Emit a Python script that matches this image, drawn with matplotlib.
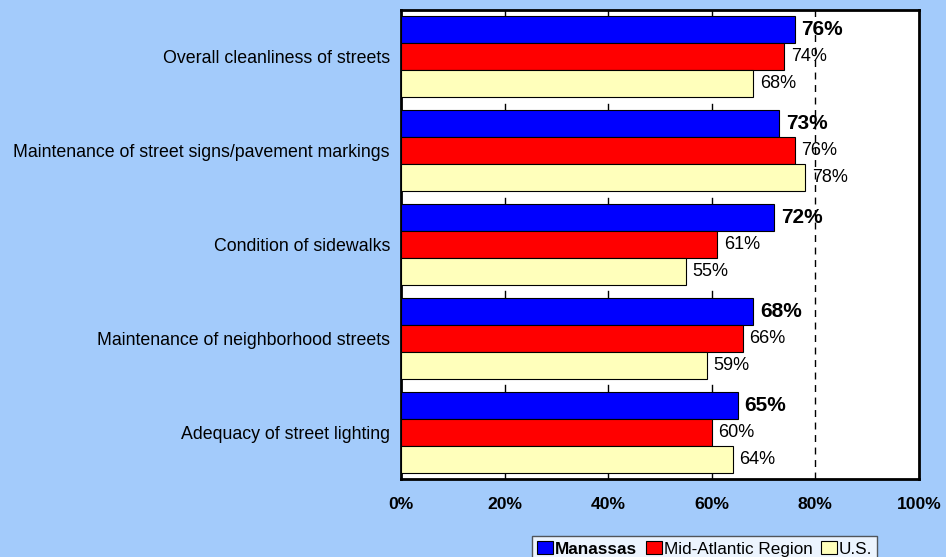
import matplotlib
matplotlib.use('Agg')
import matplotlib.pyplot as plt
from matplotlib.patches import Patch

plt.rcParams['font.family'] = ['Liberation Sans', 'DejaVu Sans']

categories = ['Overall cleanliness of streets',
              'Maintenance of street signs/pavement markings',
              'Condition of sidewalks',
              'Maintenance of neighborhood streets',
              'Adequacy of street lighting']
series_names = ['Manassas', 'Mid-Atlantic Region', 'U.S.']
manassas = [76, 73, 72, 68, 65]
mid_atlantic = [74, 76, 61, 66, 60]
us = [68, 78, 55, 59, 64]
x_ticks = [0, 20, 40, 60, 80, 100]
x_tick_labels = ['0%', '20%', '40%', '60%', '80%', '100%']

colors = ['#0000FF', '#FF0000', '#FFFFBB']
bg = '#A3CBFB'

fig = plt.figure(figsize=(9.46, 5.57), dpi=100, facecolor=bg)
ax = fig.add_axes([401 / 946, 1 - 479 / 557, 518 / 946, 469 / 557])
ax.set_facecolor('white')

bar_h = 0.288
series = [manassas, mid_atlantic, us]
for k, vals in enumerate(series):
    ys = [i + 0.5 + (k - 1) * bar_h for i in range(len(categories))]
    ax.barh(ys, vals, height=bar_h, color=colors[k], edgecolor='black',
            linewidth=0.8, zorder=3)
    for y, v in zip(ys, vals):
        if k == 0:
            ax.text(v + 1.3, y, f'{v}%', va='center', ha='left',
                    fontsize=15, fontweight='bold', zorder=4)
        else:
            ax.text(v + 1.3, y, f'{v}%', va='center', ha='left',
                    fontsize=13, zorder=4)

ax.set_xlim(0, 100)
ax.set_ylim(5, 0)

# dashed reference line at 80%
ax.axvline(80, color='black', linestyle=(0, (5, 4)), linewidth=1, zorder=2)

# small tick marks at category boundaries
tl = 6 / 93.8
for x in [20, 40, 60]:
    for b in range(5):
        ax.plot([x, x], [b, b + tl], color='black', lw=1, zorder=2)
    ax.plot([x, x], [5 - tl, 5], color='black', lw=1, zorder=2)

ax.set_yticks([i + 0.5 for i in range(len(categories))])
ax.set_yticklabels(categories, fontsize=12.8)
ax.tick_params(axis='y', length=0, pad=8)
ax.set_xticks(x_ticks)
ax.set_xticklabels(x_tick_labels, fontsize=12.6, fontweight='bold')
ax.tick_params(axis='x', length=0, pad=13)

for s in ax.spines.values():
    s.set_linewidth(2)
    s.set_color('black')

handles = [Patch(facecolor=c, edgecolor='black', linewidth=0.8) for c in colors]
leg = fig.legend(handles, series_names, loc='upper left',
                 bbox_to_anchor=(532 / 946, 1 - 536 / 557), ncol=3,
                 fontsize=12.3, frameon=True, fancybox=False,
                 handlelength=0.95, handleheight=0.8, handletextpad=0.1,
                 columnspacing=0.5, borderpad=0.3, borderaxespad=0)
leg.get_frame().set_edgecolor('#333333')
leg.get_frame().set_linewidth(1)
leg.get_texts()[0].set_fontweight('bold')

fig.savefig('out.png', dpi=100, facecolor=bg)
